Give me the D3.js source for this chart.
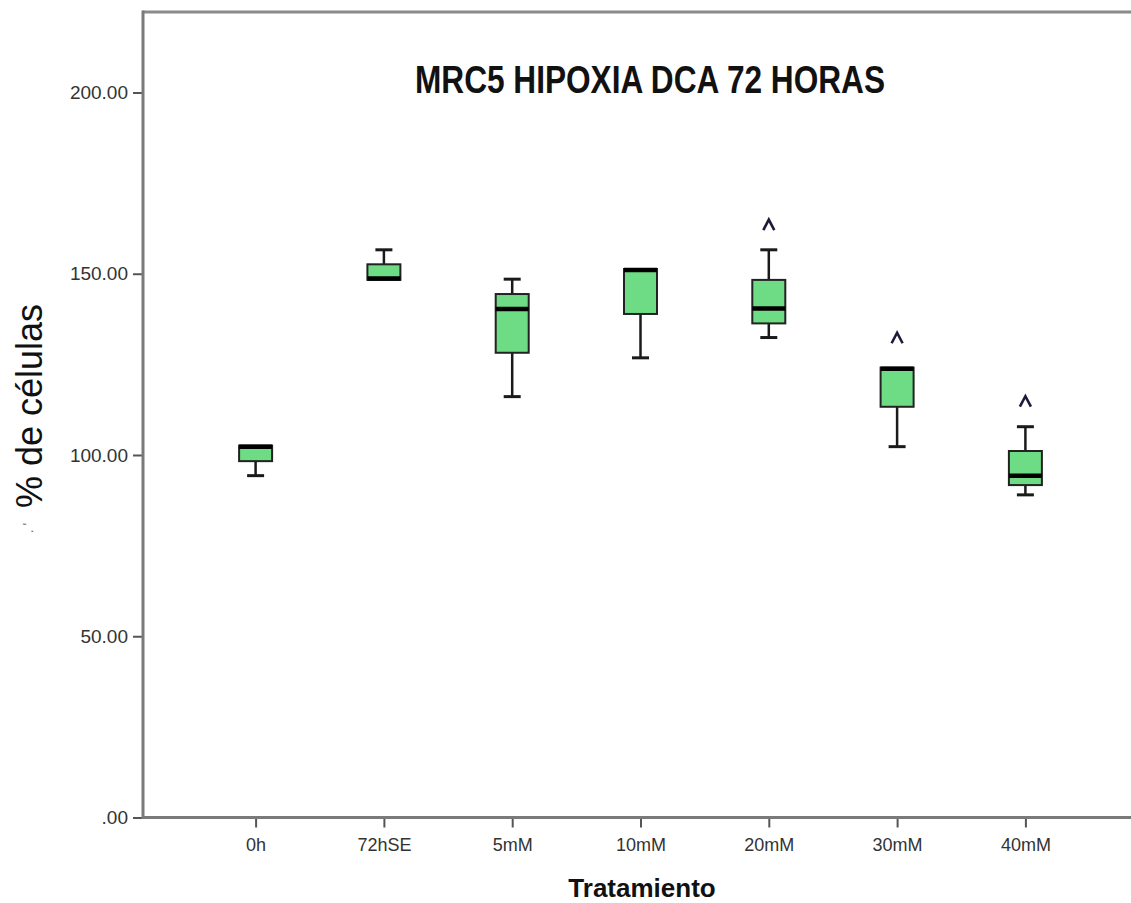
<!DOCTYPE html>
<html>
<head>
<meta charset="utf-8">
<script src="https://cdn.jsdelivr.net/npm/d3@7"></script>
<style>
  body { margin: 0; background: #fff; }
  svg text { font-family: Arial, "Liberation Sans", sans-serif; }
</style>
</head>
<body>
<svg id="chart"></svg>
<script>
const categories = ["0h", "72hSE", "5mM", "10mM", "20mM", "30mM", "40mM"];
const whiskerLow = [94.3, 148.3, 116.1, 126.8, 132.4, 102.3, 89.0];
const q1 = [98.3, 148.3, 128.2, 138.9, 136.3, 113.3, 91.7];
const medians = [102.3, 148.7, 140.3, 151.0, 140.4, 123.8, 94.3];
const q3 = [102.6, 152.6, 144.4, 151.3, 148.3, 124.1, 101.1];
const whiskerHigh = [102.6, 156.6, 148.5, 151.3, 156.6, 124.1, 107.8];

// extreme value markers (^)
const extremeCats = ["20mM", "30mM", "40mM"];
const extremeValues = [163.4, 132.2, 114.7];

const yTicks = [0, 50, 100, 150, 200];
const yTickLabels = [".00", "50.00", "100.00", "150.00", "200.00"];

const width = 1131;
const height = 903;

const svg = d3.select("#chart")
  .attr("width", width)
  .attr("height", height);

const plotLeft = 143, plotTop = 12, plotBottom = 817.5;

const x = d3.scalePoint()
  .domain(categories)
  .range([255.6, 1025.4]);

const y = d3.scaleLinear()
  .domain([0, 222.2])
  .range([plotBottom, plotTop]);

// y axis
const yAxis = d3.axisLeft(y)
  .tickValues(yTicks)
  .tickSize(10)
  .tickPadding(5)
  .tickFormat((d, i) => yTickLabels[i]);

const gy = svg.append("g")
  .attr("transform", `translate(${plotLeft},0)`)
  .call(yAxis);
gy.select(".domain").remove();
gy.selectAll(".tick line").attr("stroke", "#555").attr("stroke-width", 2);
gy.selectAll(".tick text")
  .attr("fill", "#333")
  .style("font-size", "19px");

// x axis
const xAxis = d3.axisBottom(x)
  .tickSize(10)
  .tickPadding(11);

const gx = svg.append("g")
  .attr("transform", `translate(0,${plotBottom})`)
  .call(xAxis);
gx.select(".domain").remove();
gx.selectAll(".tick line").attr("stroke", "#555").attr("stroke-width", 2);
gx.selectAll(".tick text")
  .attr("fill", "#333")
  .style("font-size", "18px");

// frame lines
svg.append("line")
  .attr("x1", plotLeft).attr("x2", width)
  .attr("y1", plotTop).attr("y2", plotTop)
  .attr("stroke", "#8a8a8a").attr("stroke-width", 3);
svg.append("line")
  .attr("x1", plotLeft).attr("x2", plotLeft)
  .attr("y1", plotTop - 1.5).attr("y2", plotBottom + 1.5)
  .attr("stroke", "#7a7a7a").attr("stroke-width", 3);
svg.append("line")
  .attr("x1", plotLeft).attr("x2", width)
  .attr("y1", plotBottom).attr("y2", plotBottom)
  .attr("stroke", "#7a7a7a").attr("stroke-width", 3);

// boxes
const boxW = 33, capW = 17;
const rows = categories.map((c, i) => ({
  cat: c, lo: whiskerLow[i], q1: q1[i], med: medians[i], q3: q3[i], hi: whiskerHigh[i]
}));

const g = svg.append("g").selectAll("g")
  .data(rows)
  .enter()
  .append("g");

// whiskers
g.append("line")
  .attr("x1", d => x(d.cat)).attr("x2", d => x(d.cat))
  .attr("y1", d => y(d.hi)).attr("y2", d => y(d.q3))
  .attr("stroke", "#1a1a1a").attr("stroke-width", 2.5);
g.append("line")
  .attr("x1", d => x(d.cat)).attr("x2", d => x(d.cat))
  .attr("y1", d => y(d.q1)).attr("y2", d => y(d.lo))
  .attr("stroke", "#1a1a1a").attr("stroke-width", 2.5);
g.filter(d => d.hi > d.q3).append("line")
  .attr("x1", d => x(d.cat) - capW / 2).attr("x2", d => x(d.cat) + capW / 2)
  .attr("y1", d => y(d.hi)).attr("y2", d => y(d.hi))
  .attr("stroke", "#1a1a1a").attr("stroke-width", 3);
g.filter(d => d.lo < d.q1).append("line")
  .attr("x1", d => x(d.cat) - capW / 2).attr("x2", d => x(d.cat) + capW / 2)
  .attr("y1", d => y(d.lo)).attr("y2", d => y(d.lo))
  .attr("stroke", "#1a1a1a").attr("stroke-width", 3);

// box
g.append("rect")
  .attr("x", d => x(d.cat) - boxW / 2)
  .attr("width", boxW)
  .attr("y", d => y(d.q3))
  .attr("height", d => y(d.q1) - y(d.q3))
  .attr("fill", "#6edc84")
  .attr("stroke", "#222")
  .attr("stroke-width", 2);

// median
g.append("line")
  .attr("x1", d => x(d.cat) - boxW / 2).attr("x2", d => x(d.cat) + boxW / 2)
  .attr("y1", d => y(d.med)).attr("y2", d => y(d.med))
  .attr("stroke", "#000").attr("stroke-width", 4.5);

// extreme markers
svg.append("g").selectAll("path")
  .data(extremeCats.map((c, i) => ({ cat: c, v: extremeValues[i] })))
  .enter()
  .append("path")
  .attr("transform", d => `translate(${x(d.cat)},${y(d.v)})`)
  .attr("d", "M-5.5,5 L0,-5.5 L5.5,5")
  .attr("fill", "none")
  .attr("stroke", "#1b1b3a")
  .attr("stroke-width", 2.6);

// title
svg.append("text")
  .attr("x", 650)
  .attr("y", 93)
  .attr("text-anchor", "middle")
  .attr("textLength", 470)
  .attr("lengthAdjust", "spacingAndGlyphs")
  .style("font-size", "38px")
  .style("font-weight", "bold")
  .attr("fill", "#111")
  .text("MRC5 HIPOXIA DCA 72 HORAS");

// axis titles
svg.append("text")
  .attr("x", 642)
  .attr("y", 897)
  .attr("text-anchor", "middle")
  .style("font-size", "26px")
  .style("font-weight", "bold")
  .attr("fill", "#111")
  .text("Tratamiento");

svg.append("text")
  .attr("transform", "translate(42,406) rotate(-90)")
  .attr("text-anchor", "middle")
  .style("font-size", "36px")
  .attr("fill", "#111")
  .text("% de células");

svg.append("text")
  .attr("transform", "translate(33,528) rotate(-90)")
  .attr("text-anchor", "middle")
  .style("font-size", "14px")
  .attr("fill", "#777")
  .text(". '");
</script>
</body>
</html>
